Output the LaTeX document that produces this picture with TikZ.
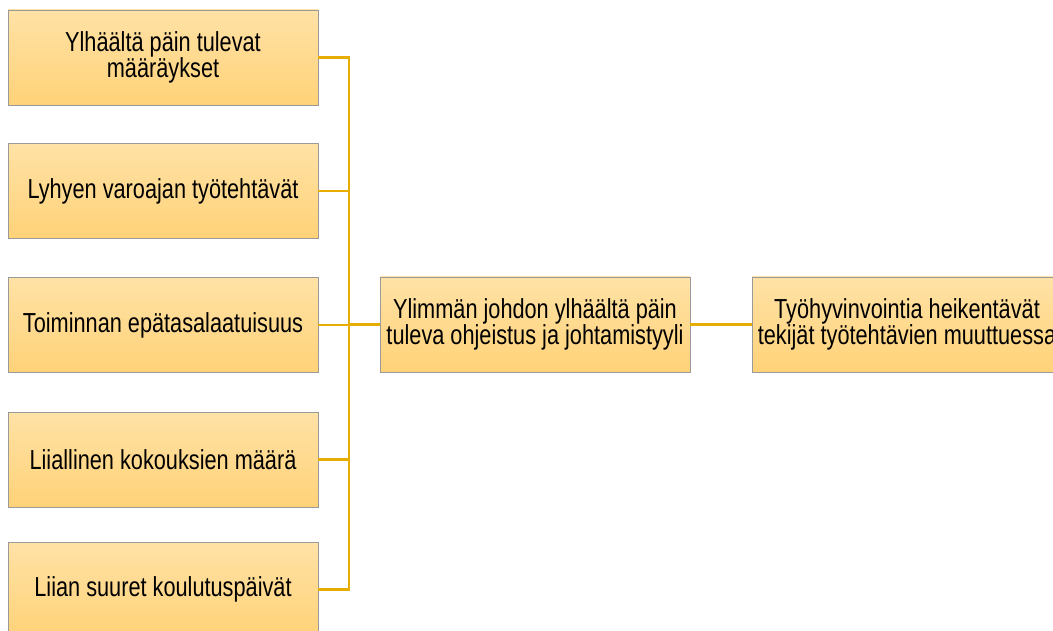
\documentclass[tikz,border=0pt]{standalone}
\usepackage{fontspec}
\setmainfont[FakeStretch=0.79]{Liberation Sans}
\definecolor{boxtop}{HTML}{FFE2A6}
\definecolor{boxbot}{HTML}{FFD278}
\definecolor{boxline}{HTML}{9A9A9A}
\definecolor{linkcol}{HTML}{E6AC00}
\begin{document}
\begin{tikzpicture}[x=1pt,y=-1pt,
  itembox/.style={draw=boxline, line width=0.8pt, top color=boxtop, bottom color=boxbot,
    minimum width=310pt, minimum height=95pt, inner sep=0pt, align=center,
    font=\fontsize{27.5}{26}\selectfont, anchor=center},
  link/.style={draw=linkcol, line width=2.5pt}]
\useasboundingbox (0,0) rectangle (1053,631);
\clip (0,0) rectangle (1053,631);
% left column of causes
\node[itembox] (c1) at (163,57.5) {Ylhäältä päin tulevat\\määräykset};
\node[itembox] (c2) at (163,191) {Lyhyen varoajan työtehtävät};
\node[itembox] (c3) at (163,325) {Toiminnan epätasalaatuisuus};
\node[itembox] (c4) at (163,459.5) {Liiallinen kokouksien määrä};
\node[itembox] (c5) at (163,589.5) {Liian suuret koulutuspäivät};
% middle and right boxes
\node[itembox] (m) at (535,324.5) {Ylimmän johdon ylhäältä päin\\tuleva ohjeistus ja johtamistyyli};
\node[itembox] (r) at (907,324.5) {Työhyvinvointia heikentävät\\tekijät työtehtävien muuttuessa};
% bracket joining the causes
\coordinate (j1) at (349,57.5);
\coordinate (j5) at (349,589.5);
\coordinate (jm) at (349,324.5);
\draw[link] (c1.east) -- (j1) -- (j5) -- (c5.east);
\draw[link] (c2.east) -- (c2.east -| j1);
\draw[link] (c3.east) -- (c3.east -| j1);
\draw[link] (c4.east) -- (c4.east -| j1);
\draw[link] (jm) -- (m.west);
\draw[link] (m.east) -- (r.west);
\end{tikzpicture}
\end{document}
